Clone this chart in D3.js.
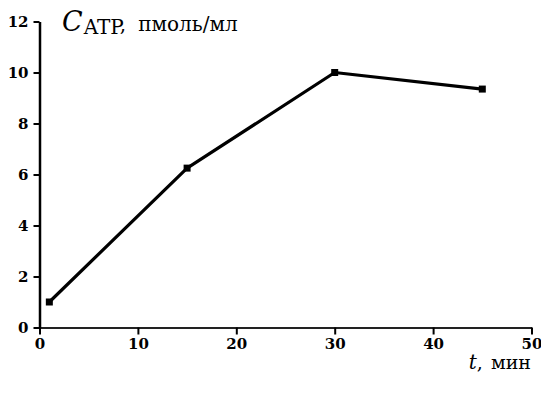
<!DOCTYPE html>
<html>
<head>
<meta charset="utf-8">
<script src="https://cdn.jsdelivr.net/npm/d3@7"></script>
<style>
  body { margin: 0; background: #fff; }
</style>
</head>
<body>
<script>
// time, min
const times = [1, 15, 30, 45];
// ATP concentration, pmol/ml
const atp = [1.0, 6.25, 10.0, 9.35];
const xTicks = [0, 10, 20, 30, 40, 50];
const yTicks = [0, 2, 4, 6, 8, 10, 12];

const serif = "'DejaVu Serif', 'Liberation Serif', 'Times New Roman', serif";
const w = 541, h = 396;
const svg = d3.select("body").append("svg")
  .attr("width", w)
  .attr("height", h);

const x = d3.scaleLinear().domain([0, 50]).range([39.5, 531.5]);
const y = d3.scaleLinear().domain([0, 12]).range([327.5, 21.5]);

const xAxis = svg.append("g")
  .attr("transform", "translate(0," + y(0) + ")")
  .call(d3.axisBottom(x).tickValues(xTicks).tickSize(7).tickPadding(4).tickSizeOuter(0))
  .attr("font-family", serif);
xAxis.select(".domain").attr("stroke", "#222").attr("stroke-width", 2.2);
xAxis.selectAll(".tick line").attr("stroke-width", 2);
xAxis.selectAll("text")
  .style("font-family", serif)
  .attr("font-size", 15).attr("font-weight", "bold").attr("fill", "#000");

const yAxis = svg.append("g")
  .attr("transform", "translate(" + x(0) + ",0)")
  .call(d3.axisLeft(y).tickValues(yTicks).tickSize(6).tickPadding(5).tickSizeOuter(0))
  .attr("font-family", serif);
yAxis.select(".domain").attr("stroke-width", 2.5);
yAxis.selectAll(".tick line").attr("stroke-width", 2);
yAxis.selectAll("text")
  .style("font-family", serif)
  .attr("font-size", 15).attr("font-weight", "bold").attr("fill", "#000");

const pts = times.map((t, i) => [t, atp[i]]);

svg.append("path")
  .datum(pts)
  .attr("fill", "none")
  .attr("stroke", "#000")
  .attr("stroke-width", 3.2)
  .attr("stroke-linejoin", "round")
  .attr("d", d3.line().x(d => x(d[0])).y(d => y(d[1])));

svg.selectAll("rect.pt")
  .data(pts)
  .enter()
  .append("rect")
  .attr("class", "pt")
  .attr("x", d => x(d[0]) - 3.5)
  .attr("y", d => y(d[1]) - 3.5)
  .attr("width", 7)
  .attr("height", 7)
  .attr("fill", "#000");

// y-axis title
const yt = svg.append("text")
  .attr("x", 62)
  .attr("y", 31)
  .style("font-family", serif)
  .attr("fill", "#000");
yt.append("tspan").attr("font-style", "italic").attr("font-size", 27).text("C");
yt.append("tspan").attr("font-size", 20).attr("dy", 3).attr("dx", 1).text("ATP");
yt.append("tspan").attr("font-size", 20).attr("dy", -3).text(",");
yt.append("tspan").attr("font-size", 20).attr("dx", 12).text("пмоль/мл");

// x-axis title
const xt = svg.append("text")
  .attr("x", 531)
  .attr("y", 369)
  .attr("text-anchor", "end")
  .style("font-family", serif)
  .attr("fill", "#000");
xt.append("tspan").attr("font-style", "italic").attr("font-size", 20).text("t");
xt.append("tspan").attr("font-size", 19).text(",");
xt.append("tspan").attr("font-size", 19).attr("dx", 8).text("мин");
</script>
</body>
</html>
